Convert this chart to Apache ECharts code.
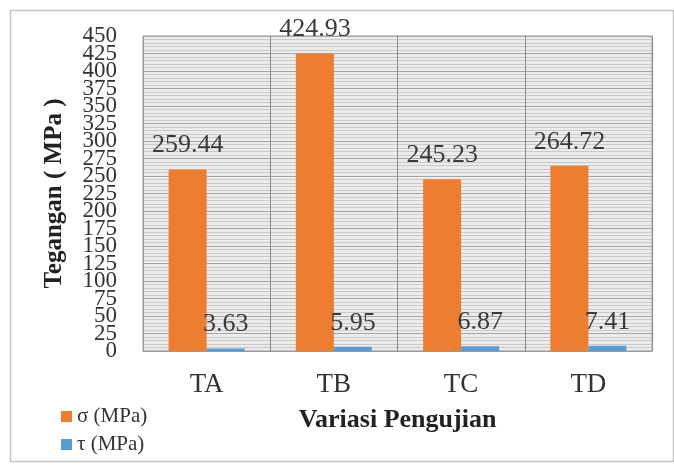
<!DOCTYPE html>
<html>
<head>
<meta charset="utf-8">
<script src="https://cdn.jsdelivr.net/npm/echarts@6/dist/echarts.min.js"></script>
<style>
  html, body { margin: 0; padding: 0; background: #ffffff; }
  #chart { width: 674px; height: 466px; }
</style>
</head>
<body>
<div id="chart"></div>
<script>
// Test variations and measured stresses
const categories = ['TA', 'TB', 'TC', 'TD'];
const sigmaValues = [259.44, 424.93, 245.23, 264.72];
const tauValues = [3.63, 5.95, 6.87, 7.41];
const seriesNames = ['σ (MPa)', 'τ (MPa)'];
const yAxisName = 'Tegangan ( MPa )';
const xAxisName = 'Variasi Pengujian';
const yMin = 0, yMax = 450, yStep = 25;

const serif = 'Liberation Serif';
const chart = echarts.init(document.getElementById('chart'), null, { renderer: 'canvas' });

const valueLabel = {
  show: true,
  position: 'top',
  distance: 11,
  fontFamily: serif,
  fontSize: 26,
  color: '#3a3a3a',
  formatter: p => p.value.toFixed(2)
};

const tickLabelStyle = { fontFamily: serif, fontSize: 23, color: '#333', margin: 26, hideOverlap: false };

chart.setOption({
  animation: false,
  backgroundColor: '#ffffff',
  graphic: [{
    type: 'rect',
    left: 8, top: 8,
    shape: { width: 663, height: 451 },
    style: { fill: 'none', stroke: '#c4c4c4', lineWidth: 1.5 },
    silent: true, z: -1
  }],
  grid: {
    left: 143, right: 22, top: 36, bottom: 115,
    show: true,
    backgroundColor: '#ececec',
    borderColor: '#9a9a9a',
    borderWidth: 1
  },
  legend: {
    orient: 'vertical',
    left: 56, top: 401,
    itemWidth: 11, itemHeight: 11,
    itemGap: 7,
    icon: 'rect',
    textStyle: { fontFamily: serif, fontSize: 21, color: '#333' },
    data: seriesNames
  },
  xAxis: {
    type: 'category',
    data: categories,
    name: xAxisName,
    nameLocation: 'middle',
    nameGap: 56,
    nameTextStyle: { fontFamily: serif, fontSize: 26, fontWeight: 'bold', color: '#222' },
    axisLine: { show: true, lineStyle: { color: '#9a9a9a' } },
    axisTick: { show: false },
    axisLabel: { fontFamily: serif, fontSize: 27, color: '#333', margin: 20 },
    splitLine: { show: true, lineStyle: { color: '#8a8a8a', width: 1 } }
  },
  yAxis: [
    {
      type: 'value',
      position: 'left', offset: 0,
      min: yMin, max: yMax, interval: yStep,
      name: yAxisName,
      nameLocation: 'middle',
      nameGap: 76,
      nameTextStyle: { fontFamily: serif, fontSize: 25, fontWeight: 'bold', color: '#222' },
      axisLine: { show: true, lineStyle: { color: '#9a9a9a' } },
      axisTick: { show: false },
      axisLabel: Object.assign({ showMinLabel: true, showMaxLabel: true }, tickLabelStyle),
      splitLine: { show: true, lineStyle: { color: '#a6a6a6', width: 1 } },
      minorTick: { show: false, splitNumber: 5 },
      minorSplitLine: { show: true, lineStyle: { color: '#cacaca', width: 1 } }
    },
    {
      // companion axis: supplies the tick labels next to the ends of the scale,
      // which the main axis drops where the packed labels overlap
      type: 'value',
      position: 'left', offset: 0,
      min: yMin, max: yMax, interval: yStep,
      axisLine: { show: false },
      axisTick: { show: false },
      splitLine: { show: false },
      axisLabel: Object.assign({
        showMinLabel: false, showMaxLabel: false,
        formatter: v => (v === yMin + yStep || v === yMax - yStep) ? String(v) : ''
      }, tickLabelStyle)
    }
  ],
  series: [
    {
      name: seriesNames[0],
      type: 'bar',
      data: sigmaValues,
      barWidth: 38,
      barGap: '0%',
      itemStyle: { color: '#ED7D31' },
      label: valueLabel
    },
    {
      name: seriesNames[1],
      type: 'bar',
      data: tauValues,
      barWidth: 38,
      barGap: '0%',
      itemStyle: { color: '#5B9BD5' },
      label: valueLabel
    }
  ]
});
</script>
</body>
</html>
